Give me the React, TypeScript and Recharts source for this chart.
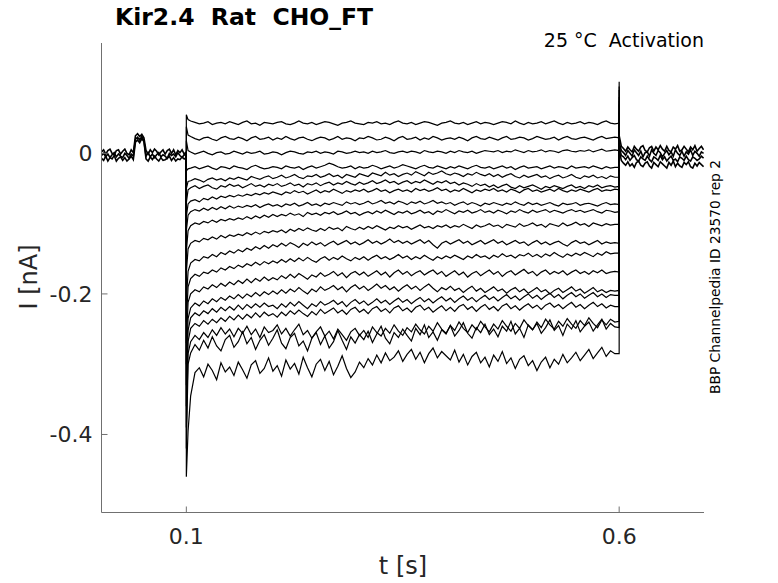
import { LineChart, Line, XAxis, YAxis } from 'recharts';

// time axis [s] and current axis [nA]
const X_DOMAIN = [0.002, 0.698];
const Y_DOMAIN = [-0.511, 0.157];
const X_TICKS = [0.1, 0.6];
const Y_TICKS = [-0.4, -0.2, 0];

// holding band before the step, 0.002 .. 0.1 s, values in pA
const PRE_A = [2, 5, -1, 4, 6, 0, -2, 4, 5, -1, 3, 6, 0, -2, 5, 1, 25, 28, 24, 27, 22,
  4, -1, 5, 1, 6, 3, -2, 2, 5, -1, 4, 6, 0, 5, -2, 4, 1, 5, -1, 2];
const PRE_B = [-3, 0, -5, -1, -6, -2, 1, -5, -1, -4, -6, 0, -3, -7, -1, -4, 20, 23, 19, 24, 18,
  -4, 1, -5, -1, -6, -2, 1, -5, -2, -4, -7, 0, -3, -1, -5, 1, -3, -6, -2, -3];
const PRE_C = [-7, -10, -4, -11, -6, -8, -3, -11, -7, -5, -10, -6, -11, -8, -4, -9, 16, 19, 15, 21, 17,
  -8, -11, -5, -9, -4, -8, -11, -6, -10, -9, -7, -4, -10, -6, -11, -8, -9, -5, -8, -6];

// tail after the step, 0.6 .. 0.6975 s, pA
const TAIL_A = [25, 10, 7, 3, 9, 5, 2, 10, 6, 3, 9, 11, 4, 2, 8, 10, 3, 9, 5, 11, 6, 3, 10, 4, 2, 9, 6, 11, 3, 5, 10, 6, 2, 9, 5, 11, 3, 7, 10, 5];
const TAIL_B = [15, 4, 1, -3, 4, 0, -4, 5, 1, -3, 3, -5, 1, 2, -4, 5, 0, -3, 4, 1, -5, 0, 4, -2, 2, -4, 5, 0, -3, 3, -4, 2, -1, 5, -3, 3, 0, -4, 2, 0];
const TAIL_C = [10, -3, -5, -9, -4, -10, -6, -3, -9, -11, -5, -8, -10, -4, -9, -12, -5, -7, -10, -3, -9, -5, -11, -7, -4, -10, -8, -12, -5, -7, -10, -4, -9, -11, -5, -7, -10, -8, -4, -7];
const TAIL_D = [5, -10, -14, -17, -12, -18, -15, -20, -13, -11, -17, -19, -14, -12, -18, -21, -13, -16, -19, -12, -15, -18, -21, -13, -17, -11, -19, -14, -18, -20, -13, -16, -12, -19, -21, -14, -18, -13, -16, -19];

// step sweeps, pA: [hold @0.1, spike @0.1, @0.102, 0.105..0.595 every 5 ms, @0.6, spike @0.6]
const TRACE_01 = [0, 55, 48,
  46, 44, 42, 43, 45, 41, 43, 44, 42, 45, 43, 41, 44, 46, 42, 43, 40, 44, 43, 42,
  44, 45, 42, 41, 43, 46, 43, 42, 44, 41, 43, 45, 44, 42, 40, 43, 44, 46, 43, 42,
  41, 44, 43, 45, 42, 43, 41, 44, 46, 43, 42, 44, 41, 43, 45, 44, 42, 40, 43, 44,
  46, 43, 42, 44, 41, 43, 45, 42, 44, 43, 41, 43, 45, 44, 42, 46, 43, 41, 44, 42,
  43, 45, 42, 44, 46, 43, 41, 44, 42, 43, 45, 42, 44, 43, 41, 44, 46, 43, 42,
  43, -20];
const TRACE_02 = [-1, 38, 26,
  24, 21, 19, 22, 23, 20, 18, 22, 24, 21, 20, 23, 21, 18, 22, 24, 20, 21, 23, 19,
  22, 20, 24, 21, 19, 22, 23, 20, 18, 21, 23, 22, 19, 21, 24, 20, 22, 21, 18, 22,
  21, 24, 22, 19, 20, 23, 21, 18, 22, 24, 20, 21, 23, 19, 22, 20, 24, 22, 19, 21,
  22, 20, 23, 21, 18, 22, 24, 21, 20, 23, 21, 19, 22, 24, 20, 21, 23, 22, 19, 21,
  24, 22, 20, 21, 23, 19, 22, 24, 21, 20, 22, 23, 21, 19, 22, 24, 21, 22, 23,
  22, -10];
const TRACE_03 = [1, 18, 4,
  2, -1, 1, 3, 0, -2, 1, 2, -1, 0, 3, 1, -1, 2, 0, 1, 3, -1, 0, 2,
  1, -2, 1, 3, 2, 0, -1, 2, 1, 3, 0, 2, 1, -1, 3, 2, 0, 1, 3, 1,
  2, 0, 3, 1, 2, 4, 1, 0, 2, 3, 1, 3, 2, 0, 4, 2, 1, 3, 2, 0,
  3, 1, 4, 2, 1, 3, 0, 2, 4, 3, 2, 4, 1, 3, 2, 5, 3, 1, 4, 2,
  3, 5, 2, 4, 3, 1, 4, 5, 3, 2, 4, 3, 5, 2, 4, 6, 3, 4, 5,
  4, 0];
const TRACE_04 = [0, -25, -22,
  -21, -19, -22, -20, -18, -21, -23, -19, -20, -22, -18, -20, -21, -23, -19, -17, -20, -22, -21, -19,
  -20, -22, -18, -20, -21, -19, -23, -20, -18, -21, -19, -17, -14, -16, -19, -21, -20, -18, -22, -19,
  -21, -20, -17, -19, -22, -20, -18, -21, -19, -16, -18, -20, -22, -19, -17, -20, -21, -18, -20, -22,
  -19, -21, -18, -20, -22, -19, -17, -20, -21, -19, -22, -20, -18, -21, -19, -23, -20, -18, -21, -20,
  -19, -22, -20, -18, -21, -19, -20, -22, -18, -21, -20, -19, -21, -18, -20, -22, -19, -21, -20,
  -20, -5];
const TRACE_05 = [-1, -50, -40,
  -39, -36, -38, -41, -37, -35, -38, -36, -39, -35, -37, -34, -36, -38, -33, -35, -37, -34, -32, -36,
  -34, -31, -35, -33, -30, -34, -36, -32, -33, -30, -34, -32, -29, -33, -31, -35, -30, -32, -34, -29,
  -31, -33, -28, -30, -32, -27, -31, -29, -33, -30, -28, -31, -26, -29, -32, -27, -30, -28, -25, -29,
  -31, -28, -30, -33, -29, -31, -27, -30, -32, -29, -33, -30, -34, -31, -29, -33, -35, -31, -34, -32,
  -30, -34, -32, -36, -33, -31, -35, -33, -30, -34, -36, -32, -34, -31, -35, -33, -36, -32, -34,
  -34, 5];
const TRACE_06 = [0, -70, -52,
  -49, -46, -50, -47, -45, -49, -51, -46, -48, -44, -47, -45, -49, -46, -43, -47, -45, -48, -44, -46,
  -43, -47, -45, -42, -46, -44, -48, -43, -45, -42, -46, -43, -41, -45, -42, -44, -40, -43, -45, -41,
  -44, -42, -39, -43, -41, -38, -42, -40, -44, -41, -39, -43, -40, -42, -38, -41, -44, -40, -42, -39,
  -43, -41, -45, -42, -44, -47, -43, -46, -44, -48, -45, -49, -46, -44, -48, -50, -46, -49, -47, -45,
  -48, -51, -47, -49, -46, -48, -50, -47, -45, -49, -47, -50, -46, -48, -45, -49, -47, -46, -48,
  -47, 15];
const TRACE_07 = [1, -90, -72,
  -68, -66, -69, -64, -66, -62, -65, -61, -63, -60, -62, -59, -61, -58, -60, -57, -59, -56, -58, -55,
  -57, -59, -55, -57, -53, -56, -54, -58, -55, -52, -56, -53, -55, -51, -54, -57, -53, -55, -52, -54,
  -51, -55, -53, -50, -54, -52, -56, -53, -51, -54, -52, -55, -50, -53, -51, -54, -52, -49, -53, -51,
  -55, -52, -54, -50, -53, -56, -52, -54, -51, -53, -50, -54, -52, -55, -51, -53, -56, -52, -50, -54,
  -52, -55, -53, -51, -54, -50, -53, -55, -52, -54, -51, -53, -55, -52, -50, -54, -52, -53, -51,
  -52, 20];
const TRACE_08 = [0, -110, -88,
  -83, -80, -82, -78, -81, -77, -80, -76, -79, -75, -78, -75, -77, -74, -76, -73, -77, -74, -72, -75,
  -73, -76, -72, -74, -71, -75, -73, -70, -74, -72, -75, -71, -73, -70, -72, -74, -69, -72, -70, -73,
  -71, -68, -72, -70, -67, -71, -69, -72, -68, -70, -73, -69, -71, -68, -72, -70, -67, -71, -69, -72,
  -70, -74, -71, -69, -73, -70, -72, -75, -71, -73, -70, -72, -74, -71, -73, -69, -72, -74, -70, -73,
  -71, -74, -72, -70, -73, -75, -71, -73, -72, -70, -74, -72, -71, -73, -75, -72, -70, -73, -72,
  -73, 25];
const TRACE_09 = [-1, -140, -110,
  -103, -99, -101, -97, -99, -95, -98, -94, -96, -93, -95, -92, -94, -90, -93, -89, -92, -88, -91, -87,
  -90, -87, -89, -85, -88, -86, -90, -84, -87, -85, -88, -84, -86, -83, -87, -85, -82, -86, -84, -88,
  -85, -83, -86, -82, -85, -81, -84, -87, -83, -85, -82, -86, -84, -81, -85, -83, -87, -82, -84, -80,
  -83, -86, -82, -84, -81, -85, -83, -80, -84, -82, -85, -81, -83, -86, -82, -84, -80, -83, -85, -81,
  -84, -82, -80, -84, -81, -83, -85, -82, -80, -83, -81, -84, -82, -80, -83, -85, -81, -82, -84,
  -83, 30];
const TRACE_10 = [0, -170, -136,
  -128, -124, -126, -121, -123, -119, -122, -117, -120, -116, -118, -115, -117, -113, -116, -112, -115, -111, -113, -110,
  -112, -109, -113, -108, -111, -107, -110, -106, -109, -111, -107, -110, -105, -108, -106, -110, -104, -107, -109, -105,
  -108, -104, -107, -103, -106, -109, -105, -107, -103, -106, -104, -108, -105, -102, -106, -104, -107, -103, -105, -102,
  -106, -103, -105, -101, -104, -107, -102, -105, -103, -100, -104, -102, -106, -101, -103, -105, -100, -104, -102, -99,
  -103, -101, -105, -100, -102, -104, -99, -103, -101, -98, -102, -100, -104, -99, -101, -103, -100, -102, -101,
  -101, 35];
const TRACE_11 = [-1, -210, -168,
  -156, -151, -153, -147, -149, -144, -147, -141, -144, -139, -142, -137, -140, -135, -138, -133, -136, -131, -135, -130,
  -133, -128, -132, -127, -130, -134, -128, -131, -126, -130, -127, -132, -128, -125, -130, -127, -124, -129, -126, -130,
  -127, -123, -128, -125, -129, -126, -122, -127, -124, -128, -125, -129, -126, -123, -128, -124, -130, -135, -128, -125,
  -129, -126, -123, -128, -125, -130, -127, -124, -129, -126, -123, -128, -125, -130, -127, -124, -128, -126, -131, -127,
  -124, -129, -126, -130, -127, -125, -129, -132, -127, -124, -128, -126, -130, -127, -124, -129, -126, -128, -127,
  -128, 40];
const TRACE_12 = [0, -240, -190,
  -178, -172, -175, -169, -171, -166, -169, -163, -166, -161, -164, -159, -162, -157, -160, -155, -159, -154, -157, -153,
  -156, -151, -155, -150, -154, -149, -153, -148, -152, -155, -150, -147, -152, -148, -151, -146, -150, -153, -148, -151,
  -147, -152, -148, -145, -150, -147, -151, -148, -144, -149, -146, -151, -147, -150, -145, -149, -152, -147, -150, -146,
  -149, -145, -148, -151, -146, -149, -144, -148, -146, -150, -145, -148, -143, -147, -145, -149, -144, -146, -142, -147,
  -144, -148, -143, -146, -141, -145, -148, -143, -146, -142, -145, -141, -144, -147, -142, -145, -140, -143, -142,
  -142, 50];
const TRACE_13 = [1, -270, -212,
  -200, -194, -197, -190, -193, -187, -191, -185, -189, -183, -187, -181, -185, -179, -184, -178, -182, -176, -181, -177,
  -180, -174, -178, -172, -177, -171, -175, -179, -173, -176, -170, -175, -172, -168, -174, -170, -177, -171, -168, -173,
  -169, -175, -171, -167, -173, -169, -176, -170, -166, -172, -168, -174, -170, -167, -173, -169, -166, -172, -168, -175,
  -171, -167, -173, -169, -176, -171, -168, -174, -170, -166, -172, -168, -175, -170, -167, -173, -169, -165, -171, -168,
  -174, -169, -166, -172, -168, -171, -167, -173, -169, -166, -171, -168, -172, -167, -170, -166, -171, -169, -168,
  -169, 60];
const TRACE_14 = [-1, -300, -235,
  -220, -213, -217, -210, -214, -207, -211, -205, -209, -203, -207, -201, -206, -200, -204, -198, -203, -197, -201, -196,
  -200, -194, -199, -193, -197, -191, -196, -200, -193, -197, -190, -195, -192, -188, -194, -190, -197, -191, -187, -193,
  -189, -195, -191, -186, -192, -188, -194, -190, -196, -191, -187, -193, -189, -195, -190, -186, -192, -197, -191, -194,
  -189, -195, -192, -198, -193, -189, -196, -192, -198, -194, -190, -196, -193, -199, -194, -191, -197, -193, -199, -195,
  -191, -197, -194, -200, -195, -192, -198, -194, -190, -196, -193, -199, -195, -191, -197, -194, -198, -195, -196,
  -195, 70];
const TRACE_15 = [0, -330, -252,
  -234, -227, -231, -224, -228, -221, -226, -219, -224, -218, -223, -216, -222, -215, -220, -214, -219, -213, -218, -216,
  -221, -214, -219, -212, -217, -211, -216, -221, -214, -218, -211, -216, -213, -209, -215, -211, -218, -212, -208, -214,
  -210, -216, -212, -207, -213, -209, -215, -210, -206, -212, -208, -214, -209, -205, -211, -207, -213, -208, -204, -210,
  -206, -212, -207, -203, -209, -205, -211, -206, -202, -208, -204, -210, -205, -201, -207, -203, -209, -204, -200, -206,
  -202, -208, -203, -199, -205, -201, -207, -202, -198, -204, -200, -206, -202, -198, -204, -200, -205, -201, -202,
  -202, 75];
const TRACE_16 = [1, -360, -268,
  -249, -242, -246, -238, -243, -236, -241, -234, -239, -232, -237, -230, -236, -229, -234, -227, -233, -226, -231, -228,
  -233, -226, -231, -224, -229, -223, -228, -232, -225, -230, -222, -228, -224, -220, -227, -223, -229, -222, -219, -226,
  -222, -228, -221, -218, -225, -221, -227, -220, -217, -224, -220, -226, -219, -216, -223, -219, -226, -221, -217, -224,
  -219, -225, -218, -215, -222, -218, -225, -219, -215, -222, -218, -224, -217, -214, -221, -217, -223, -218, -214, -220,
  -216, -222, -216, -213, -219, -215, -221, -216, -212, -219, -215, -221, -216, -212, -218, -214, -220, -216, -218,
  -218, 80];
const TRACE_17 = [0, -390, -285,
  -268, -259, -265, -255, -262, -251, -259, -248, -257, -250, -261, -249, -256, -246, -258, -250, -262, -247, -255, -252,
  -244, -257, -249, -260, -251, -243, -258, -252, -263, -254, -247, -260, -253, -264, -250, -258, -266, -254, -249, -259,
  -252, -262, -247, -255, -260, -249, -256, -244, -253, -259, -248, -254, -243, -251, -257, -246, -253, -241, -250, -256,
  -245, -252, -240, -249, -255, -244, -251, -239, -247, -254, -243, -250, -238, -246, -253, -242, -249, -237, -245, -251,
  -240, -248, -236, -244, -250, -239, -246, -235, -243, -249, -238, -245, -234, -242, -248, -237, -244, -236, -240,
  -239, 90];
const TRACE_18 = [-1, -420, -300,
  -284, -272, -280, -266, -277, -261, -274, -281, -265, -259, -276, -268, -254, -271, -262, -279, -266, -258, -273, -263,
  -251, -270, -278, -262, -256, -274, -267, -281, -263, -255, -272, -260, -277, -268, -252, -266, -279, -261, -270, -258,
  -265, -253, -269, -257, -246, -263, -271, -255, -262, -250, -259, -267, -249, -258, -244, -262, -254, -266, -251, -257,
  -245, -260, -252, -241, -256, -263, -248, -255, -243, -258, -250, -261, -246, -253, -239, -257, -249, -262, -244, -251,
  -242, -256, -248, -237, -252, -245, -259, -243, -250, -238, -254, -246, -240, -253, -244, -236, -250, -242, -247,
  -248, 95];
const TRACE_19 = [0, -460, -395,
  -345, -312, -305, -318, -300, -309, -322, -298, -311, -304, -316, -297, -308, -320, -301, -295, -313, -306, -291, -310,
  -302, -317, -294, -307, -299, -314, -290, -305, -318, -300, -293, -309, -296, -315, -303, -288, -306, -319, -311, -297,
  -305, -292, -301, -287, -298, -284, -295, -290, -281, -296, -286, -279, -293, -283, -298, -285, -277, -291, -282, -288,
  -294, -280, -297, -286, -301, -289, -283, -298, -290, -304, -287, -296, -282, -299, -291, -306, -293, -288, -302, -295,
  -309, -297, -290, -305, -293, -300, -286, -298, -291, -283, -295, -287, -279, -292, -284, -276, -289, -281, -285,
  -285, 102];

const STEP_TRACES = [TRACE_01, TRACE_02, TRACE_03, TRACE_04, TRACE_05, TRACE_06, TRACE_07, TRACE_08, TRACE_09, TRACE_10,
  TRACE_11, TRACE_12, TRACE_13, TRACE_14, TRACE_15, TRACE_16, TRACE_17, TRACE_18, TRACE_19];

const spread = (vals: number[], t0: number, t1: number) =>
  vals.map((v, i) => ({ t: t0 + (i * (t1 - t0)) / (vals.length - 1), v: v / 1000 }));

const stepPoints = (vals: number[]) => {
  const n = vals.length;
  return [
    { t: 0.1, v: vals[0] / 1000 },
    { t: 0.1, v: vals[1] / 1000 },
    { t: 0.102, v: vals[2] / 1000 },
    ...spread(vals.slice(3, n - 2), 0.105, 0.595),
    { t: 0.6, v: vals[n - 2] / 1000 },
    { t: 0.6, v: vals[n - 1] / 1000 },
  ];
};

const BAND = [
  ...[PRE_A, PRE_B, PRE_C].map((p) => spread(p, 0.002, 0.1)),
  ...[TAIL_A, TAIL_B, TAIL_C, TAIL_D].map((p) => spread(p, 0.6, 0.6975)),
];
const STEPS = STEP_TRACES.map(stepPoints);

const FONT = 'DejaVu Sans';
const AXIS = '#707070';
const TEXT = '#262626';

const YTick = ({ x, y, payload }: any) => (
  <g>
    <line x1={x} x2={x + 6} y1={y} y2={y} stroke={AXIS} />
    <text x={x - 9} y={y} dy="0.36em" textAnchor="end" fontSize={22} fill={TEXT} fontFamily={FONT}>
      {String(payload.value)}
    </text>
  </g>
);

const XTick = ({ x, y, payload }: any) => (
  <g>
    <line x1={x} x2={x} y1={y} y2={y - 6} stroke={AXIS} />
    <text x={x} y={y + 31} textAnchor="middle" fontSize={22} fill={TEXT} fontFamily={FONT}>
      {String(payload.value)}
    </text>
  </g>
);

export default function App() {
  return (
    <div style={{ position: 'absolute', left: 0, top: 0, width: 778, height: 583, background: '#fff' }}>
      <LineChart width={778} height={583} margin={{ top: 43, right: 74, bottom: 40.5, left: 41.5 }}>
        <XAxis
          type="number"
          dataKey="t"
          domain={X_DOMAIN}
          ticks={X_TICKS}
          height={30}
          tickSize={0}
          tickMargin={0}
          tickLine={false}
          axisLine={{ stroke: AXIS }}
          tick={<XTick />}
          allowDataOverflow
        />
        <YAxis
          type="number"
          dataKey="v"
          domain={Y_DOMAIN}
          ticks={Y_TICKS}
          width={60}
          tickSize={0}
          tickMargin={0}
          tickLine={false}
          axisLine={{ stroke: AXIS }}
          tick={<YTick />}
          allowDataOverflow
        />
        {BAND.map((pts, i) => (
          <Line
            key={'b' + i}
            data={pts}
            dataKey="v"
            type="linear"
            stroke="#000"
            strokeWidth={1.6}
            dot={false}
            activeDot={false}
            isAnimationActive={false}
          />
        ))}
        {STEPS.map((pts, i) => (
          <Line
            key={'s' + i}
            data={pts}
            dataKey="v"
            type="linear"
            stroke="#000"
            strokeWidth={1.2}
            dot={false}
            activeDot={false}
            isAnimationActive={false}
          />
        ))}
      </LineChart>
      <svg width={778} height={583} style={{ position: 'absolute', left: 0, top: 0, pointerEvents: 'none' }}>
        <text x={115} y={25} fontSize={23.5} fontWeight="bold" fill="#000" fontFamily={FONT} style={{ whiteSpace: 'pre' }}>
          Kir2.4  Rat  CHO_FT
        </text>
        <text x={704} y={47} textAnchor="end" fontSize={19} fill="#000" fontFamily={FONT} style={{ whiteSpace: 'pre' }}>
          25 °C  Activation
        </text>
        <text x={37} y={277} textAnchor="middle" fontSize={24} fill={TEXT} fontFamily={FONT} transform="rotate(-90 37 277)">
          I [nA]
        </text>
        <text x={403} y={574} textAnchor="middle" fontSize={24} fill={TEXT} fontFamily={FONT}>
          t [s]
        </text>
        <text x={720} y={277} textAnchor="middle" fontSize={13.8} fill="#000" fontFamily={FONT} transform="rotate(-90 720 277)">
          BBP Channelpedia ID 23570 rep 2
        </text>
      </svg>
    </div>
  );
}
